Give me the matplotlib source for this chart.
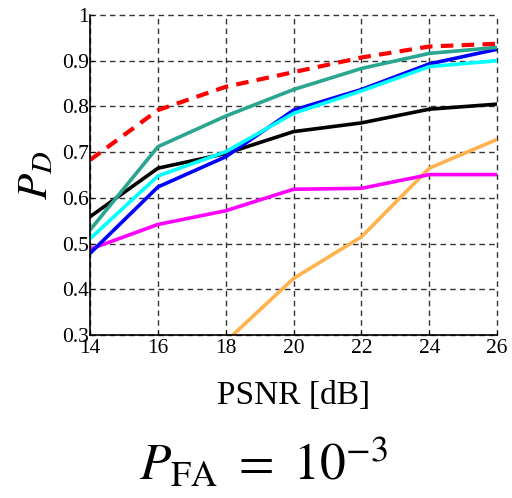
import numpy as np
import matplotlib
matplotlib.use("Agg")
import matplotlib.pyplot as plt

psnr = [14, 16, 18, 20, 22, 24, 26]

pd_red = [0.683, 0.792, 0.843, 0.875, 0.907, 0.931, 0.937]
pd_teal = [0.530, 0.712, 0.779, 0.837, 0.883, 0.916, 0.929]
pd_black = [0.559, 0.665, 0.697, 0.745, 0.764, 0.794, 0.805]
pd_cyan = [0.511, 0.648, 0.701, 0.785, 0.834, 0.887, 0.900]
pd_blue = [0.479, 0.624, 0.690, 0.792, 0.837, 0.893, 0.925]
pd_magenta = [0.488, 0.542, 0.572, 0.619, 0.621, 0.651, 0.651]

psnr_orange = [18, 20, 22, 24, 26]
pd_orange = [0.286, 0.424, 0.515, 0.665, 0.728]

yticks = [0.3, 0.4, 0.5, 0.6, 0.7, 0.8, 0.9, 1]
ytick_labels = ["0.3", "0.4", "0.5", "0.6", "0.7", "0.8", "0.9", "1"]

plt.rcParams["font.family"] = ["Liberation Serif", "DejaVu Serif"]
plt.rcParams["mathtext.fontset"] = "stix"

fig = plt.figure(figsize=(5.12, 4.98), dpi=100)
ax = fig.add_axes([0.176, 0.327, 0.795, 0.643])

lw = 2.6
ax.plot(psnr_orange, pd_orange, color="#ffb24d", lw=lw)
ax.plot(psnr, pd_magenta, color="#ff00ff", lw=lw)
ax.plot(psnr, pd_black, color="black", lw=lw)
ax.plot(psnr, pd_blue, color="#0000ff", lw=lw)
ax.plot(psnr, pd_cyan, color="#00ffff", lw=lw)
ax.plot(psnr, pd_teal, color="#29a68f", lw=lw)
ax.plot(psnr, pd_red, color="#ff0000", lw=lw + 0.4, ls=(0, (3, 2)))

ax.set_xlim(14, 26)
ax.set_ylim(0.3, 1)
ax.set_xticks(psnr)
ax.set_yticks(yticks)
ax.set_yticklabels(ytick_labels)
ax.tick_params(labelsize=15.5, direction="in", length=3, pad=1)
ax.tick_params(axis="x", pad=3)

ax.grid(True, color="#333333", ls=(0, (4, 3)), lw=1.0)
ax.spines["top"].set_visible(False)
ax.spines["right"].set_visible(False)
ax.spines["left"].set_linewidth(1.2)
ax.spines["bottom"].set_linewidth(1.2)
for gl in ax.get_xgridlines() + ax.get_ygridlines():
    gl.set_clip_on(False)

ax.set_xlabel("PSNR [dB]", fontsize=24, labelpad=16)
ax.set_ylabel("$P_D$", fontsize=31, labelpad=4)

fig.text(0.515, 0.068, r"$P_{\mathrm{FA}}\ =\ 10^{-3}$", fontsize=37,
         ha="center", va="center")

plt.savefig("out.png", dpi=100)
